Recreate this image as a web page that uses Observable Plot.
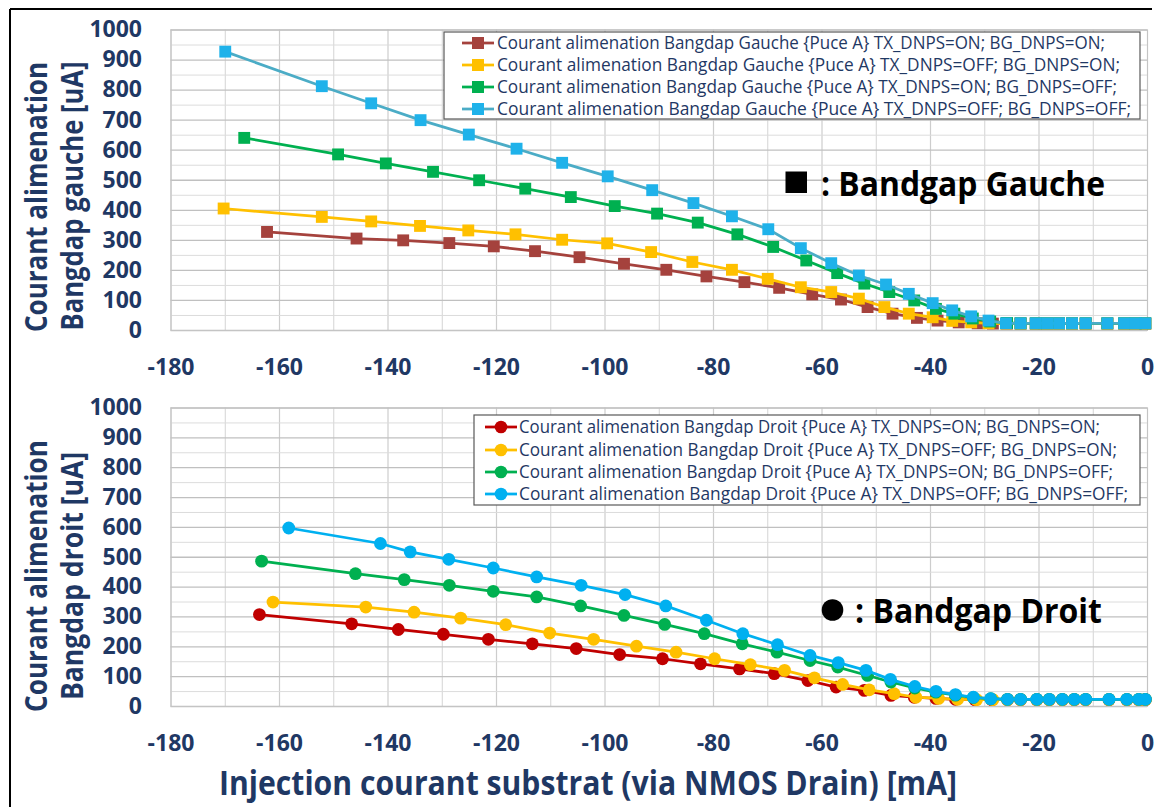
<!DOCTYPE html>
<html><head><meta charset="utf-8">
<script src="https://cdn.jsdelivr.net/npm/d3@7"></script>
<script src="https://cdn.jsdelivr.net/npm/@observablehq/plot@0.6"></script>
<style>
body{margin:0;background:#fff;}
#wrap{position:relative;width:1156px;height:807px;overflow:hidden;background:#fff;}
#wrap svg{position:absolute;left:0;}
</style></head><body><div id="wrap"></div>
<script>
// ---- ticks ----
const xTicks = [-180,-160,-140,-120,-100,-80,-60,-40,-20,0];
const xMinor = [-170,-150,-130,-110,-90,-70,-50,-30,-10];
const yTicks = [0,100,200,300,400,500,600,700,800,900,1000];
const yMinor = [50,150,250,350,450,550,650,750,850,950];

// ---- top panel: Bandgap Gauche ----
const gRedX = [-162.3,-145.8,-137.2,-128.7,-120.5,-112.9,-104.7,-96.5,-88.7,-81.3,-74.3,-67.9,-61.8,-56.5,-51.6,-47.0,-42.5,-38.7,-34.8,-31.3,-28.5,-25.9,-23.4,-20.6,-18.5,-16.3,-13.9,-11.4,-7.4,-4.3,-2.2,-0.4];
const gRedY = [328,306,300,291,280,264,244,222,202,180,161,142,120,103,78,56,42,33,27,24,23,23,23,23,23,23,23,23,23,23,23,23];
const gYelX = [-170.3,-152.2,-143.1,-134.1,-125.2,-116.5,-107.9,-99.6,-91.5,-83.9,-76.6,-70.0,-63.9,-58.3,-53.2,-48.5,-44.0,-39.6,-36.0,-32.5,-29.3,-26.1,-23.4,-20.6,-18.5,-16.3,-13.9,-11.4,-7.4,-4.3,-2.2,-0.4];
const gYelY = [406,378,363,348,333,320,302,290,261,228,202,172,144,128,106,78,56,44,32,27,24,23,23,23,23,23,23,23,23,23,23,23];
const gGrnX = [-166.5,-149.2,-140.4,-131.7,-123.2,-114.7,-106.3,-98.2,-90.4,-82.9,-75.6,-69.0,-62.9,-57.2,-52.2,-47.6,-43.0,-39.0,-35.6,-32.2,-29.0,-25.9,-23.4,-20.6,-18.5,-16.3,-13.9,-11.4,-7.4,-4.3,-2.2,-0.4];
const gGrnY = [641,586,556,528,500,472,444,414,389,359,320,278,233,191,156,128,100,72,56,40,30,25,24,24,24,24,24,24,24,24,24,24];
const gBluX = [-170.0,-152.2,-143.1,-134.0,-125.1,-116.3,-107.9,-99.5,-91.3,-83.7,-76.6,-69.9,-63.9,-58.3,-53.2,-48.2,-44.0,-39.6,-36.0,-32.5,-29.3,-26.1,-23.4,-20.6,-18.5,-16.3,-13.9,-11.4,-7.4,-4.3,-2.2,-0.4];
const gBluY = [928,813,756,700,652,605,558,513,467,424,380,337,274,224,183,153,122,91,67,47,33,24,24,24,24,24,24,24,24,24,24,24];

// ---- bottom panel: Bandgap Droit ----
const dRedX = [-163.7,-146.7,-138.1,-129.8,-121.5,-113.4,-105.3,-97.3,-89.4,-82.4,-75.2,-68.8,-62.6,-57.4,-52.2,-47.3,-43.0,-39.0,-35.4,-31.8,-28.7,-25.8,-23.4,-20.4,-18.1,-15.7,-13.5,-11.4,-7.1,-3.8,-1.6,-0.4];
const dRedY = [308,277,258,242,225,210,194,174,160,143,126,110,87,65,54,37,31,27,24,23,23,23,23,23,23,23,23,23,23,23,23,23];
const dYelX = [-161.2,-144.1,-135.2,-126.6,-118.3,-110.2,-102.1,-94.2,-86.9,-79.8,-73.2,-66.9,-61.4,-56.2,-51.3,-46.7,-42.7,-38.5,-35.0,-31.5,-28.5,-25.8,-23.4,-20.4,-18.1,-15.7,-13.5,-11.4,-7.1,-3.8,-1.6,-0.4];
const dYelY = [350,333,316,296,274,246,225,202,182,160,140,121,96,74,56,43,31,27,24,23,23,23,23,23,23,23,23,23,23,23,23,23];
const dGrnX = [-163.3,-146.0,-137.0,-128.7,-120.6,-112.6,-104.5,-96.5,-89.0,-81.7,-74.7,-68.3,-62.2,-57.1,-51.6,-47.3,-42.9,-39.0,-35.4,-32.1,-28.9,-25.8,-23.4,-20.4,-18.1,-15.7,-13.5,-11.4,-7.1,-3.8,-1.6,-0.4];
const dGrnY = [487,445,425,406,386,367,337,305,275,244,210,182,154,132,104,82,62,48,38,30,26,24,24,24,24,24,24,24,24,24,24,24];
const dBluX = [-158.3,-141.4,-135.9,-128.8,-120.6,-112.6,-104.4,-96.3,-88.8,-81.3,-74.6,-68.2,-62.2,-57.0,-51.9,-47.4,-42.9,-39.0,-35.4,-32.1,-28.9,-25.8,-23.4,-20.4,-18.1,-15.7,-13.5,-11.4,-7.1,-3.8,-1.6,-0.4];
const dBluY = [598,546,518,493,464,434,406,375,337,289,244,207,171,147,121,91,67,51,40,31,26,24,24,24,24,24,24,24,24,24,24,24];

// ---- labels ----
const gaucheNames = [
  "Courant alimenation Bangdap Gauche {Puce A} TX_DNPS=ON; BG_DNPS=ON;",
  "Courant alimenation Bangdap Gauche {Puce A} TX_DNPS=OFF; BG_DNPS=ON;",
  "Courant alimenation Bangdap Gauche {Puce A} TX_DNPS=ON; BG_DNPS=OFF;",
  "Courant alimenation Bangdap Gauche {Puce A} TX_DNPS=OFF; BG_DNPS=OFF;"
];
const droitNames = [
  "Courant alimenation Bangdap Droit {Puce A} TX_DNPS=ON; BG_DNPS=ON;",
  "Courant alimenation Bangdap Droit {Puce A} TX_DNPS=OFF; BG_DNPS=ON;",
  "Courant alimenation Bangdap Droit {Puce A} TX_DNPS=ON; BG_DNPS=OFF;",
  "Courant alimenation Bangdap Droit {Puce A} TX_DNPS=OFF; BG_DNPS=OFF;"
];
const gaucheLine = ["#a5423d","#ffc000","#00b050","#4bacc6"];
const gaucheFill = ["#a5423d","#ffc000","#00b050","#1fb2ea"];
const droitColors = ["#c00000","#ffc000","#00b050","#00b0f0"];
const navy = "#1f3864";
const FONT = "'Open Sans', 'Noto Sans', sans-serif";

function toRows(xs, ys){ return xs.map((x,i)=>({x, y: ys[i]})); }

const gauche = [toRows(gRedX,gRedY), toRows(gYelX,gYelY), toRows(gGrnX,gGrnY), toRows(gBluX,gBluY)];
const droit = [toRows(dRedX,dRedY), toRows(dYelX,dYelY), toRows(dGrnX,dGrnY), toRows(dBluX,dBluY)];

function panel(series, lineColors, fillColors, symbol, r, height, mt, mb){
  const marks = [
    Plot.gridX(xMinor, {stroke:"#d4d4d4", strokeOpacity:1, strokeWidth:1}),
    Plot.gridX(xTicks, {stroke:"#cdcdcd", strokeOpacity:1, strokeWidth:1.2}),
    Plot.gridY(yMinor, {stroke:"#dcdcdc", strokeOpacity:1, strokeWidth:1}),
    Plot.gridY(yTicks, {stroke:"#c0c0c0", strokeOpacity:1, strokeWidth:1.3}),
    Plot.frame({stroke:"#c4c4c4"}),
    Plot.axisX(xTicks, {tickSize:0, tickPadding:28, tickFormat: d => String(d), label:null}),
    Plot.axisY(yTicks, {tickSize:0, tickPadding:29, tickFormat: d => String(d), label:null})
  ];
  series.forEach((data,i)=>{
    marks.push(Plot.line(data, {x:"x", y:"y", stroke: lineColors[i], strokeWidth:2.75}));
    marks.push(Plot.dot(data, {x:"x", y:"y", symbol, r, fill: fillColors[i], stroke:"none"}));
  });
  return Plot.plot({
    width:1156, height,
    marginLeft:170.5, marginRight:9, marginTop:mt, marginBottom:mb,
    x:{domain:[-180,0], label:null},
    y:{domain:[0,1000], label:null},
    style:{fontFamily:FONT, fontSize:"23px", fontWeight:"700", color:navy, background:"transparent", overflow:"visible"},
    marks
  });
}

const wrap = document.getElementById("wrap");
const top1 = panel(gauche, gaucheLine, gaucheFill, "square", 6.7, 385, 29.5, 55);
top1.style.top = "0px";
wrap.appendChild(top1);
const bot = panel(droit, droitColors, droitColors, "circle", 6.4, 380, 22.5, 59);
bot.style.top = "385px";
wrap.appendChild(bot);

// ---- overlay: titles, legends, annotations, border ----
const ov = d3.select(wrap).append("svg")
  .attr("width",1156).attr("height",807).style("top","0px")
  .style("font-family", FONT);

ov.append("line").attr("x1",10).attr("x2",10).attr("y1",9).attr("y2",807).attr("stroke","#000").attr("stroke-width",2);
ov.append("line").attr("x1",10).attr("x2",1152).attr("y1",9).attr("y2",9).attr("stroke","#000").attr("stroke-width",2);

function rotText(txt, x, y, len, size){
  ov.append("text").attr("transform",`translate(${x},${y}) rotate(-90)`)
    .attr("text-anchor","middle").attr("font-size",size).attr("font-weight",700)
    .attr("fill",navy).attr("textLength",len).attr("lengthAdjust","spacingAndGlyphs").text(txt);
}
rotText("Courant alimenation", 46.5, 197, 270, 31);
rotText("Bangdap gauche [uA]", 83, 196, 269, 31);
rotText("Courant alimenation", 46.5, 576, 272, 31);
rotText("Bangdap droit [uA]", 83, 576, 248, 31);

ov.append("text").attr("x",219).attr("y",795).attr("font-size",34).attr("font-weight",700)
  .attr("fill",navy).attr("textLength",738).attr("lengthAdjust","spacingAndGlyphs")
  .text("Injection courant substrat (via NMOS Drain) [mA]");

function legend(names, lineColors, fillColors, symbol, box, rows, lx0, lx1, tx, ends){
  ov.append("rect").attr("x",box[0]).attr("y",box[1]).attr("width",box[2]-box[0]).attr("height",box[3]-box[1])
    .attr("fill","#fff").attr("stroke","#595959").attr("stroke-width",1.2);
  names.forEach((n,i)=>{
    const y = rows[i];
    ov.append("line").attr("x1",lx0).attr("x2",lx1).attr("y1",y).attr("y2",y)
      .attr("stroke",lineColors[i]).attr("stroke-width",2.75);
    const cx = (lx0+lx1)/2;
    if(symbol==="square"){
      ov.append("rect").attr("x",cx-6).attr("y",y-6).attr("width",12).attr("height",12).attr("fill",fillColors[i]);
    } else {
      ov.append("circle").attr("cx",cx).attr("cy",y).attr("r",6.3).attr("fill",fillColors[i]);
    }
    ov.append("text").attr("x",tx).attr("y",y+6).attr("font-size",17.5).attr("font-weight",500)
      .attr("fill",navy).attr("textLength",ends[i]-tx).attr("lengthAdjust","spacingAndGlyphs").text(n);
  });
}
legend(gaucheNames, gaucheLine, gaucheFill, "square", [444,32,1140,119], [43,65,87,109], 462, 494, 497, [1105,1120,1117,1131]);
legend(droitNames, droitColors, droitColors, "circle", [474,415,1140,505], [427,450,472,494], 485, 517, 519, [1100,1117,1113,1128]);

// annotations
ov.append("rect").attr("x",785.5).attr("y",171.5).attr("width",21.5).attr("height",21.5).attr("fill","#000");
ov.append("text").attr("x",821).attr("y",196).attr("font-size",34).attr("font-weight",700).attr("fill","#000")
  .attr("textLength",284).attr("lengthAdjust","spacingAndGlyphs").text(": Bandgap Gauche");
ov.append("circle").attr("cx",832.5).attr("cy",610).attr("r",10.8).attr("fill","#000");
ov.append("text").attr("x",855).attr("y",623).attr("font-size",34).attr("font-weight",700).attr("fill","#000")
  .attr("textLength",247).attr("lengthAdjust","spacingAndGlyphs").text(": Bandgap Droit");
</script></body></html>
